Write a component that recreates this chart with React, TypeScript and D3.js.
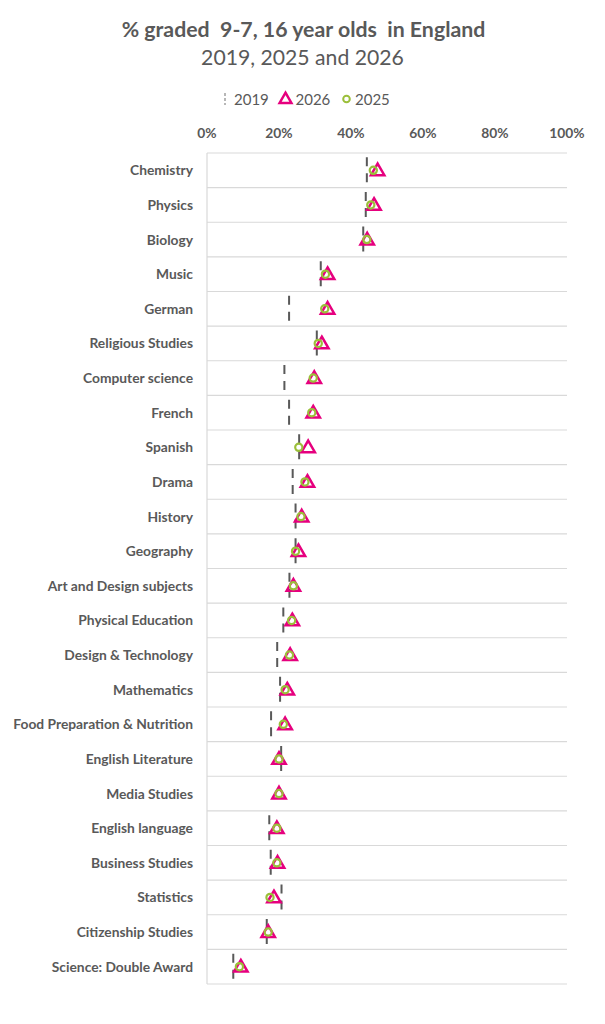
import React from 'react'
import * as d3 from 'd3'

// subjects, top to bottom
const subjects = [
  'Chemistry', 'Physics', 'Biology', 'Music', 'German', 'Religious Studies',
  'Computer science', 'French', 'Spanish', 'Drama', 'History', 'Geography',
  'Art and Design subjects', 'Physical Education', 'Design & Technology',
  'Mathematics', 'Food Preparation & Nutrition', 'English Literature',
  'Media Studies', 'English language', 'Business Studies', 'Statistics',
  'Citizenship Studies', 'Science: Double Award'
]

// % graded 9-7
const pct2019: (number | null)[] = [
  44.4, 44.1, 43.4, 31.6, 22.8, 30.5, 21.5, 22.8, 25.6, 23.8, 24.6, 24.6,
  22.9, 21.2, 19.5, 20.3, 17.8, 20.6, null, 17.3, 17.7, 20.7, 16.6, 7.3
]
const pct2025 = [
  46.2, 45.5, 44.4, 32.9, 32.7, 30.9, 29.5, 29.1, 25.5, 27.2, 26.1, 24.6,
  24.0, 23.5, 22.9, 21.7, 21.2, 20.0, 20.0, 19.4, 19.4, 17.5, 17.0, 9.0
]
const pct2026 = [
  47.4, 46.4, 44.5, 33.5, 33.5, 31.9, 29.8, 29.5, 28.1, 27.9, 26.3, 25.4,
  24.0, 23.7, 23.1, 22.3, 21.7, 20.0, 20.0, 19.4, 19.6, 18.6, 17.0, 9.4
]

const xTicks = [0, 20, 40, 60, 80, 100]

const W = 605
const H = 1024
const margin = { top: 153, right: 38, bottom: 40, left: 207 }

const TEXT = '#595959'
const GRID = '#d9d9d9'
const PINK = '#e6007e'
const GREEN = '#9bbf3a'
const FONT = 'Lato, "Open Sans", sans-serif'

export default function App() {
  const x = d3.scaleLinear().domain([0, 100]).range([margin.left, W - margin.right])
  const y = d3.scaleBand<string>().domain(subjects).range([margin.top, H - margin.bottom])
  const bw = y.bandwidth()

  const tri = d3.symbol().type(d3.symbolTriangle).size(78)
  const legTri = d3.symbol().type(d3.symbolTriangle).size(60)

  return (
    <svg width={W} height={H} style={{ position: 'absolute', left: 0, top: 0, background: '#fff' }}
      fontFamily={FONT}>
      {/* titles */}
      <text x={W / 2 + 1} y={37} textAnchor="middle" fontSize={21.3} fontWeight={700} fill={TEXT}
        style={{ whiteSpace: 'pre' }}>
        {'% graded  9-7, 16 year olds  in England'}
      </text>
      <text x={W / 2} y={65} textAnchor="middle" fontSize={21.2} fill={TEXT}>
        2019, 2025 and 2026
      </text>

      {/* legend */}
      <g fontSize={15} fill={TEXT}>
        <line x1={225} x2={225} y1={93} y2={105} stroke="#a0a0a0" strokeWidth={1.5} strokeDasharray="3,2" />
        <text x={234} y={104.5}>2019</text>
        <path d={legTri()!} transform="translate(285.5,99.5)" fill="none" stroke={PINK} strokeWidth={2.5} />
        <text x={295.5} y={104.5}>2026</text>
        <circle cx={346.5} cy={99} r={3.3} fill="none" stroke={GREEN} strokeWidth={2} />
        <text x={355} y={104.5}>2025</text>
      </g>

      {/* x axis labels */}
      {xTicks.map(t => (
        <text key={t} x={x(t)} y={138} textAnchor="middle" fontSize={13.8} fontWeight={700} fill={TEXT}>
          {t}%
        </text>
      ))}

      {/* grid */}
      {[...subjects.map(s => y(s)!), H - margin.bottom].map((gy, i) => (
        <line key={i} x1={x(0)} x2={x(100)} y1={gy} y2={gy} stroke={GRID} strokeWidth={1.2} />
      ))}
      <line x1={x(0)} x2={x(0)} y1={margin.top} y2={H - margin.bottom} stroke={GRID} strokeWidth={1.2} />

      {/* category labels */}
      {subjects.map(s => (
        <text key={s} x={193} y={y(s)! + bw / 2 + 5} textAnchor="end" fontSize={13.8}
          fontWeight={700} fill={TEXT}>
          {s}
        </text>
      ))}

      {/* 2019 */}
      {subjects.map((s, i) => {
        const v = pct2019[i]
        if (v == null) return null
        const cy = y(s)! + bw / 2
        return (
          <line key={s} x1={x(v)} x2={x(v)} y1={cy - 13} y2={cy + 12} stroke={TEXT}
            strokeWidth={2} strokeDasharray="9,7" />
        )
      })}

      {/* 2026 */}
      {subjects.map((s, i) => (
        <path key={s} d={tri()!} transform={`translate(${x(pct2026[i])},${y(s)! + bw / 2 + 1})`}
          fill="none" stroke={PINK} strokeWidth={2.5} strokeLinejoin="miter" />
      ))}

      {/* 2025 */}
      {subjects.map((s, i) => (
        <circle key={s} cx={x(pct2025[i])} cy={y(s)! + bw / 2} r={3.6} fill="none"
          stroke={GREEN} strokeWidth={2.2} />
      ))}
    </svg>
  )
}
